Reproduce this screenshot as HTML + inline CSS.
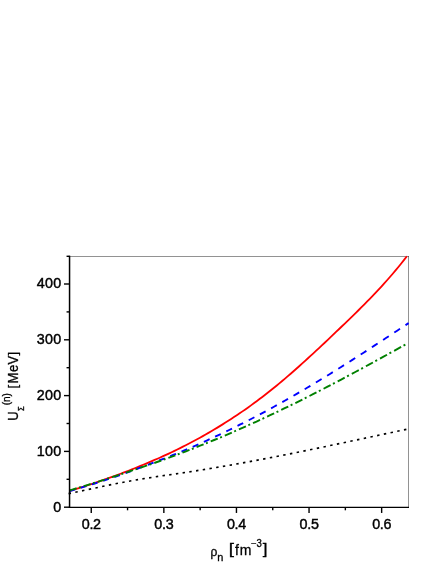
<!DOCTYPE html>
<html><head><meta charset="utf-8"><title>plot</title>
<style>
html,body{margin:0;padding:0;background:#fff;}
body{width:436px;height:564px;overflow:hidden;}
svg{display:block;}
text{font-family:"Liberation Sans",sans-serif;fill:#000;stroke:#000;stroke-width:0.3px;}
.tl text{font-size:14.35px;stroke-width:0.42px;}
</style></head><body>
<svg width="436" height="564" viewBox="0 0 436 564">
<defs><filter id="gs" x="0" y="0" width="436" height="564" filterUnits="userSpaceOnUse" color-interpolation-filters="sRGB"><feColorMatrix type="saturate" values="0"/></filter></defs>
<rect width="436" height="564" fill="#fff"/>
<!-- frame -->
<path d="M69.55,256.5 H408.5 V507.3" fill="none" stroke="#929292" stroke-width="1"/>
<rect x="408" y="256" width="1" height="1" fill="#5c5c5c"/>
<!-- curves -->
<path d="M69.55,490.96 L72.38,490.10 L75.22,489.23 L78.05,488.35 L80.89,487.47 L83.72,486.57 L86.56,485.67 L89.39,484.76 L92.23,483.82 L95.06,482.86 L97.90,481.90 L100.73,480.92 L103.57,479.93 L106.40,478.93 L109.24,477.92 L112.07,476.89 L114.91,475.85 L117.74,474.80 L120.58,473.74 L123.41,472.66 L126.25,471.57 L129.08,470.47 L131.92,469.35 L134.75,468.22 L137.59,467.07 L140.42,465.90 L143.26,464.75 L146.09,463.57 L148.93,462.38 L151.76,461.18 L154.60,459.95 L157.43,458.71 L160.27,457.45 L163.10,456.17 L165.94,454.87 L168.77,453.56 L171.61,452.22 L174.44,450.86 L177.28,449.49 L180.11,448.09 L182.94,446.67 L185.78,445.23 L188.61,443.77 L191.45,442.28 L194.28,440.78 L197.12,439.25 L199.95,437.69 L202.79,436.12 L205.62,434.52 L208.46,432.89 L211.29,431.24 L214.13,429.57 L216.96,427.87 L219.80,426.14 L222.63,424.39 L225.47,422.61 L228.30,420.81 L231.14,418.98 L233.97,417.12 L236.81,415.23 L239.64,413.32 L242.48,411.37 L245.31,409.40 L248.15,407.40 L250.98,405.37 L253.82,403.30 L256.65,401.21 L259.49,399.09 L262.32,396.94 L265.16,394.75 L267.99,392.53 L270.83,390.28 L273.66,388.00 L276.50,385.69 L279.33,383.35 L282.17,380.98 L285.00,378.58 L287.84,376.16 L290.67,373.71 L293.51,371.23 L296.34,368.74 L299.17,366.22 L302.01,363.68 L304.84,361.12 L307.68,358.54 L310.51,355.94 L313.35,353.33 L316.18,350.70 L319.02,348.05 L321.85,345.40 L324.69,342.73 L327.52,340.05 L330.36,337.36 L333.19,334.66 L336.03,331.95 L338.86,329.24 L341.70,326.52 L344.53,323.79 L347.37,321.06 L350.20,318.32 L353.04,315.57 L355.87,312.80 L358.71,310.01 L361.54,307.19 L364.38,304.35 L367.21,301.48 L370.05,298.58 L372.88,295.64 L375.72,292.65 L378.55,289.63 L381.39,286.56 L384.22,283.43 L387.06,280.26 L389.89,277.02 L392.73,273.73 L395.56,270.37 L398.40,266.95 L401.23,263.45 L404.07,259.88 L406.90,256.23" fill="none" stroke="#ff0000" stroke-width="1.8" stroke-linejoin="round"/>
<path d="M69.50,491.14 L72.35,490.30 L75.20,489.46 M80.70,487.81 L83.55,486.95 L86.40,486.09 M91.90,484.38 L94.75,483.47 L97.60,482.55 M103.10,480.76 L105.95,479.82 L108.80,478.87 M114.30,477.01 L117.15,476.04 L120.00,475.06 M125.50,473.10 L128.35,472.07 L131.20,471.03 M136.70,468.99 L139.55,467.93 L142.40,466.87 M147.90,464.81 L150.75,463.73 L153.60,462.63 M159.10,460.49 L161.95,459.38 L164.80,458.27 M170.30,456.09 L173.15,454.94 L176.00,453.78 M181.50,451.51 L184.35,450.32 L187.20,449.12 M192.70,446.76 L195.55,445.52 L198.40,444.27 M203.90,441.82 L206.75,440.53 L209.60,439.24 M215.10,436.70 L217.95,435.36 L220.80,434.02 M226.30,431.39 L229.15,430.01 L232.00,428.62 M237.50,425.90 L240.35,424.47 L243.20,423.03 M248.70,420.22 L251.55,418.74 L254.40,417.26 M259.90,414.36 L262.75,412.84 L265.60,411.31 M271.10,408.32 L273.95,406.76 L276.80,405.18 M282.30,402.11 L285.15,400.50 L288.00,398.88 M293.50,395.73 L296.35,394.09 L299.20,392.43 M304.70,389.20 L307.55,387.51 L310.40,385.82 M315.90,382.52 L318.75,380.79 L321.60,379.06 M327.10,375.69 L329.95,373.94 L332.80,372.17 M338.30,368.75 L341.15,366.96 L344.00,365.16 M349.50,361.68 L352.35,359.87 L355.20,358.05 M360.70,354.52 L363.55,352.68 L366.40,350.84 M371.90,347.27 L374.75,345.41 L377.60,343.55 M383.10,339.95 L385.95,338.07 L388.80,336.20 M394.30,332.58 L397.15,330.69 L400.00,328.81 M405.50,325.17 L407.05,324.15 L408.60,323.12" fill="none" stroke="#0000ff" stroke-width="1.9"/>
<path d="M69.60,490.34 L73.10,489.31 L76.60,488.28 M79.00,487.56 L80.80,487.02 M83.71,486.15 L87.21,485.10 L90.71,484.03 M93.11,483.27 L94.91,482.70 M97.82,481.78 L101.32,480.66 L104.82,479.53 M107.22,478.76 L109.02,478.17 M111.93,477.22 L115.43,476.06 L118.93,474.90 M121.33,474.11 L123.13,473.52 M126.04,472.56 L129.54,471.39 L133.04,470.21 M135.44,469.40 L137.24,468.79 M140.15,467.79 L143.65,466.62 L147.15,465.43 M149.55,464.61 L151.35,463.99 M154.26,462.98 L157.76,461.76 L161.26,460.52 M163.66,459.65 L165.46,458.99 M168.37,457.92 L171.87,456.63 L175.37,455.32 M177.77,454.42 L179.57,453.74 M182.48,452.63 L185.98,451.28 L189.48,449.93 M191.88,448.99 L193.68,448.29 M196.59,447.14 L200.09,445.74 L203.59,444.34 M205.99,443.36 L207.79,442.63 M210.70,441.44 L214.20,440.00 L217.70,438.54 M220.10,437.53 L221.90,436.77 M224.81,435.54 L228.31,434.04 L231.81,432.54 M234.21,431.50 L236.01,430.71 M238.92,429.44 L242.42,427.89 L245.92,426.33 M248.32,425.26 L250.12,424.44 M253.03,423.13 L256.53,421.53 L260.03,419.92 M262.43,418.81 L264.23,417.98 M267.14,416.62 L270.64,414.98 L274.14,413.32 M276.54,412.18 L278.34,411.32 M281.25,409.92 L284.75,408.23 L288.25,406.53 M290.65,405.36 L292.45,404.47 M295.36,403.04 L298.86,401.30 L302.36,399.56 M304.76,398.36 L306.56,397.45 M309.47,395.98 L312.97,394.20 L316.47,392.42 M318.87,391.19 L320.67,390.26 M323.58,388.76 L327.08,386.95 L330.58,385.12 M332.98,383.87 L334.78,382.92 M337.69,381.39 L341.19,379.55 L344.69,377.69 M347.09,376.41 L348.89,375.45 M351.80,373.89 L355.30,372.02 L358.80,370.13 M361.20,368.83 L363.00,367.86 M365.91,366.28 L369.41,364.38 L372.91,362.47 M375.31,361.16 L377.11,360.17 M380.02,358.58 L383.52,356.65 L387.02,354.73 M389.42,353.40 L391.22,352.41 M394.13,350.80 L397.63,348.86 L401.13,346.93 M403.53,345.59 L405.33,344.60" fill="none" stroke="#008000" stroke-width="1.9"/>
<path d="M68.60,493.64 L71.00,493.14 M75.31,492.24 L77.71,491.73 M82.01,490.82 L84.41,490.30 M88.72,489.38 L91.12,488.87 M95.43,487.95 L97.83,487.44 M102.13,486.53 L104.53,486.03 M108.84,485.14 L111.24,484.65 M115.55,483.78 L117.95,483.30 M122.26,482.47 L124.66,482.01 M128.96,481.21 L131.36,480.78 M135.67,480.03 L138.07,479.62 M142.38,478.91 L144.78,478.52 M149.08,477.83 L151.48,477.46 M155.79,476.80 L158.19,476.44 M162.50,475.80 L164.90,475.44 M169.21,474.81 L171.60,474.46 M175.91,473.83 L178.31,473.48 M182.62,472.84 L185.02,472.49 M189.33,471.84 L191.73,471.48 M196.03,470.81 L198.43,470.44 M202.74,469.75 L205.14,469.37 M209.45,468.67 L211.85,468.27 M216.15,467.55 L218.55,467.15 M222.86,466.41 L225.26,466.00 M229.57,465.25 L231.97,464.82 M236.27,464.06 L238.67,463.63 M242.98,462.85 L245.38,462.41 M249.69,461.61 L252.09,461.17 M256.40,460.36 L258.80,459.91 M263.10,459.09 L265.50,458.63 M269.81,457.80 L272.21,457.33 M276.52,456.49 L278.92,456.02 M283.22,455.16 L285.62,454.69 M289.93,453.83 L292.33,453.34 M296.64,452.47 L299.04,451.99 M303.35,451.11 L305.75,450.62 M310.05,449.73 L312.45,449.24 M316.76,448.35 L319.16,447.85 M323.47,446.95 L325.87,446.45 M330.17,445.54 L332.57,445.04 M336.88,444.13 L339.28,443.63 M343.59,442.72 L345.99,442.21 M350.29,441.29 L352.69,440.78 M357.00,439.87 L359.40,439.36 M363.71,438.44 L366.11,437.93 M370.42,437.01 L372.81,436.49 M377.12,435.58 L379.52,435.06 M383.83,434.14 L386.23,433.63 M390.54,432.72 L392.94,432.21 M397.24,431.29 L399.64,430.78 M403.95,429.87 L406.35,429.36" fill="none" stroke="#000" stroke-width="1.65"/>
<!-- axes -->
<path d="M69.55,255.7 V507.97" fill="none" stroke="#000" stroke-width="1.5"/>
<path d="M68.8,507.3 H409.0" fill="none" stroke="#000" stroke-width="1.35"/>
<g stroke="#000" stroke-width="1.4">
<line x1="91.25" y1="507.30" x2="91.25" y2="512.95"/>
<line x1="163.85" y1="507.30" x2="163.85" y2="512.95"/>
<line x1="236.45" y1="507.30" x2="236.45" y2="512.95"/>
<line x1="309.05" y1="507.30" x2="309.05" y2="512.95"/>
<line x1="381.65" y1="507.30" x2="381.65" y2="512.95"/>
<line x1="127.55" y1="507.30" x2="127.55" y2="510.30"/>
<line x1="200.15" y1="507.30" x2="200.15" y2="510.30"/>
<line x1="272.75" y1="507.30" x2="272.75" y2="510.30"/>
<line x1="345.35" y1="507.30" x2="345.35" y2="510.30"/>
<line x1="69.55" y1="507.20" x2="64.00" y2="507.20"/>
<line x1="69.55" y1="451.40" x2="64.00" y2="451.40"/>
<line x1="69.55" y1="395.60" x2="64.00" y2="395.60"/>
<line x1="69.55" y1="339.80" x2="64.00" y2="339.80"/>
<line x1="69.55" y1="284.00" x2="64.00" y2="284.00"/>
<line x1="69.55" y1="479.30" x2="66.55" y2="479.30"/>
<line x1="69.55" y1="423.50" x2="66.55" y2="423.50"/>
<line x1="69.55" y1="367.70" x2="66.55" y2="367.70"/>
<line x1="69.55" y1="311.90" x2="66.55" y2="311.90"/>
<line x1="69.55" y1="256.30" x2="66.55" y2="256.30"/>
</g>
<g class="tl" filter="url(#gs)">
<text transform="translate(91.25,529.2) scale(1,1.06)" text-anchor="middle" letter-spacing="-0.3">0.2</text>
<text transform="translate(163.85,529.2) scale(1,1.06)" text-anchor="middle" letter-spacing="-0.3">0.3</text>
<text transform="translate(236.45,529.2) scale(1,1.06)" text-anchor="middle" letter-spacing="-0.3">0.4</text>
<text transform="translate(309.05,529.2) scale(1,1.06)" text-anchor="middle" letter-spacing="-0.3">0.5</text>
<text transform="translate(381.65,529.2) scale(1,1.06)" text-anchor="middle" letter-spacing="-0.3">0.6</text>
<text transform="translate(61.5,511.55) scale(1,1.06)" text-anchor="end" letter-spacing="0.25">0</text>
<text transform="translate(61.5,455.75) scale(1,1.06)" text-anchor="end" letter-spacing="0.25">100</text>
<text transform="translate(61.5,399.95) scale(1,1.06)" text-anchor="end" letter-spacing="0.25">200</text>
<text transform="translate(61.5,344.15) scale(1,1.06)" text-anchor="end" letter-spacing="0.25">300</text>
<text transform="translate(61.5,288.35) scale(1,1.06)" text-anchor="end" letter-spacing="0.25">400</text>
</g>
<!-- x title -->
<g filter="url(#gs)">
<text transform="translate(210.50,555.80) scale(1.000,1.070)" font-size="12.00px" stroke-width="0.00">ρ</text>
<text transform="translate(217.30,561.10) scale(1.000,0.930)" font-size="11.00px" stroke-width="0.20">n</text>
<text transform="translate(228.70,553.60) scale(1.350,1.080)" font-size="14.00px" stroke-width="0.30">[</text>
<text transform="translate(235.05,554.90) scale(1.000,1.080)" font-size="14.00px" stroke-width="0.30">f</text>
<text transform="translate(239.70,554.90) scale(1.000,1.080)" font-size="14.00px" stroke-width="0.30">m</text>
<text transform="translate(250.70,545.75) scale(1.000,0.750)" font-size="9.60px" stroke-width="0.00">−</text>
<text transform="translate(256.60,546.50) scale(1.000,1.120)" font-size="9.60px" stroke-width="0.25">3</text>
<text transform="translate(262.70,553.60) scale(1.200,1.080)" font-size="14.00px" stroke-width="0.30">]</text>
</g>
<!-- y title -->
<g filter="url(#gs)"><g transform="translate(17.9,420) rotate(-90)">
<text transform="translate(-0.70,0.00) scale(1.000,1.080)" font-size="13.00px" stroke-width="0.30">U</text>
<text transform="translate(9.00,6.10) scale(1.000,1.100)" font-size="7.70px" stroke-width="0.20">Σ</text>
<text transform="translate(14.70,-8.35) scale(1.000,1.000)" font-size="10.00px" stroke-width="0.20">(n)</text>
<text transform="translate(31.60,-1.25) scale(1.000,0.990)" font-size="13.00px" stroke-width="0.30">[</text>
<text transform="translate(36.60,0.00) scale(1.000,1.080)" font-size="13.00px" stroke-width="0.30">M</text>
<text transform="translate(48.10,0.00) scale(1.000,1.080)" font-size="13.00px" stroke-width="0.30">e</text>
<text transform="translate(55.40,0.00) scale(1.000,1.080)" font-size="13.00px" stroke-width="0.30">V</text>
<text transform="translate(64.40,-1.25) scale(1.000,0.990)" font-size="13.00px" stroke-width="0.30">]</text>
</g></g>
</svg>
</body></html>
